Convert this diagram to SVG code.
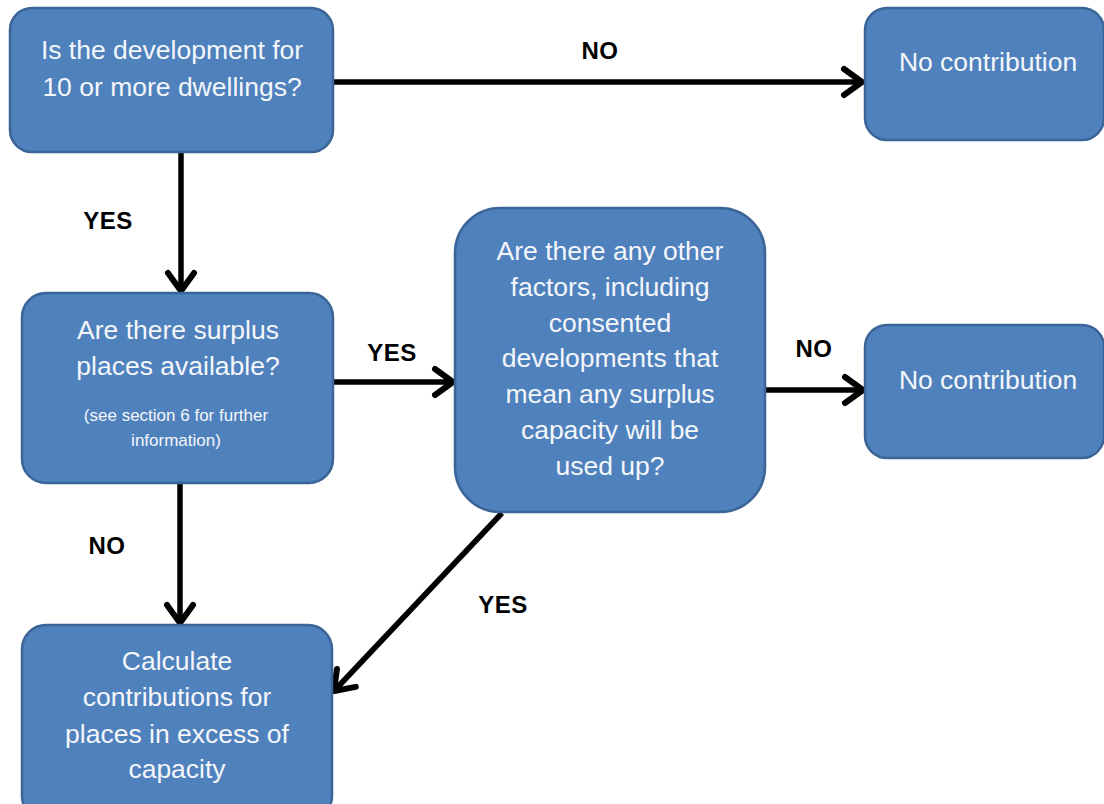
<svg xmlns="http://www.w3.org/2000/svg" width="1104" height="804" viewBox="0 0 1104 804">
<defs>
<marker id="ah" viewBox="0 0 30 34" refX="26" refY="17" markerWidth="30" markerHeight="34" markerUnits="userSpaceOnUse" orient="auto">
<path d="M8,4 L26,17 L8,30" fill="none" stroke="#000" stroke-width="6" stroke-linecap="round" stroke-linejoin="round"/>
</marker>
</defs>
<style>
.box{fill:#4f81bd;stroke:#3b6597;stroke-width:2.5}
.t{font-family:"Liberation Sans",Arial,sans-serif;font-size:26.5px;fill:#f4f6fa;text-anchor:middle}
.s{font-family:"Liberation Sans",Arial,sans-serif;font-size:17px;fill:#f4f6fa;text-anchor:middle}
.lbl{font-family:"Liberation Sans",Arial,sans-serif;font-size:24px;font-weight:bold;fill:#000;text-anchor:middle;letter-spacing:0.5px}
.c{fill:none;stroke:#000;stroke-width:5.5;marker-end:url(#ah)}
</style>
<rect width="1104" height="804" fill="#fff"/>
<g id="connectors">
<line class="c" x1="330" y1="82" x2="862" y2="82"/>
<line class="c" x1="181" y1="153" x2="181" y2="291"/>
<line class="c" x1="334" y1="382" x2="453" y2="382"/>
<line class="c" x1="764" y1="390" x2="863" y2="390"/>
<line class="c" x1="180" y1="484" x2="180" y2="623"/>
<line class="c" x1="502" y1="513" x2="334" y2="691"/>
<text class="lbl" x="600" y="59">NO</text>
<text class="lbl" x="108" y="229">YES</text>
<text class="lbl" x="392" y="361">YES</text>
<text class="lbl" x="814" y="357">NO</text>
<text class="lbl" x="107" y="554">NO</text>
<text class="lbl" x="503" y="613">YES</text>
</g>
<g id="n1">
<rect class="box" x="10" y="8" width="323" height="144" rx="22"/>
<text class="t" x="172" y="59">Is the development for</text>
<text class="t" x="172" y="96">10 or more dwellings?</text>
</g>
<g id="n2">
<rect class="box" x="865" y="8" width="239" height="132" rx="22"/>
<text class="t" x="988" y="71">No contribution</text>
</g>
<g id="n3">
<rect class="box" x="22" y="293" width="311" height="190" rx="24"/>
<text class="t" x="178" y="339">Are there surplus</text>
<text class="t" x="178" y="375">places available?</text>
<text class="s" x="176" y="421">(see section 6 for further</text>
<text class="s" x="176" y="446">information)</text>
</g>
<g id="n4">
<rect class="box" x="455" y="208" width="310" height="304" rx="45"/>
<text class="t" x="610" y="260">Are there any other</text>
<text class="t" x="610" y="296">factors, including</text>
<text class="t" x="610" y="332">consented</text>
<text class="t" x="610" y="367">developments that</text>
<text class="t" x="610" y="403">mean any surplus</text>
<text class="t" x="610" y="439">capacity will be</text>
<text class="t" x="610" y="475">used up?</text>
</g>
<g id="n5">
<rect class="box" x="865" y="325" width="239" height="133" rx="22"/>
<text class="t" x="988" y="389">No contribution</text>
</g>
<g id="n6">
<rect class="box" x="22" y="625" width="310" height="195" rx="24"/>
<text class="t" x="177" y="670">Calculate</text>
<text class="t" x="177" y="706">contributions for</text>
<text class="t" x="177" y="743">places in excess of</text>
<text class="t" x="177" y="778">capacity</text>
</g>
</svg>
